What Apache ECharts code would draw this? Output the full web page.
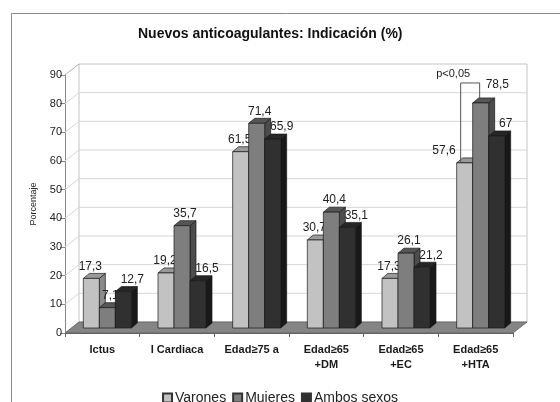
<!DOCTYPE html>
<html>
<head>
<meta charset="utf-8">
<script src="https://cdn.jsdelivr.net/npm/echarts@6/dist/echarts.min.js"></script>
<style>
  html, body { margin: 0; padding: 0; background: #fff; }
  #chart { width: 560px; height: 402px; }
</style>
</head>
<body>
<div id="chart"></div>
<script>
// Indicaciones de los nuevos anticoagulantes, en porcentaje
const categorias = ['Ictus', 'I Cardiaca', 'Edad≥75 a', 'Edad≥65\n+DM', 'Edad≥65\n+EC', 'Edad≥65\n+HTA'];
const varones = [17.3, 19.2, 61.5, 30.7, 17.3, 57.6];
const mujeres = [7.1, 35.7, 71.4, 40.4, 26.1, 78.5];
const ambosSexos = [12.7, 16.5, 65.9, 35.1, 21.2, 67];
const nombresSeries = ['Varones', 'Mujeres', 'Ambos sexos'];
const ticksY = [0, 10, 20, 30, 40, 50, 60, 70, 80, 90];
// diferencia significativa: categoría, texto
const significacion = { categoria: 5, texto: 'p<0,05' };

const FONT = '"Liberation Sans", Arial, sans-serif';

// Profundidad de la caja 3D y de las barras (px)
const CAJA = [14, -11];
const BARRA_OFF = [5, -5];
const BARRA_PROF = [6, -5];
const BARRA_ANCHO = 16;

// Colores por serie: frontal, superior, lateral
const colores = [
  { front: '#c2c2c2', top: '#9a9a9a', side: '#8a8a8a' },
  { front: '#7e7e7e', top: '#565656', side: '#4c4c4c' },
  { front: '#303030', top: '#262626', side: '#181818' }
];
const valores = [varones, mujeres, ambosSexos];

function fmt(v) { return String(v).replace('.', ','); }

function geomBarra(api, s, i, v) {
  const base = api.coord([i, 0]);
  const top = api.coord([i, v]);
  const fx = base[0] - 1.5 * BARRA_ANCHO + s * BARRA_ANCHO + BARRA_OFF[0];
  return { fx: fx, by: base[1] + BARRA_OFF[1], ty: top[1] + BARRA_OFF[1] };
}

function bracketGeom(api) {
  const i = significacion.categoria;
  const a = geomBarra(api, 0, i, varones[i]);
  const b = geomBarra(api, 1, i, mujeres[i]);
  const lx = a.fx + BARRA_ANCHO / 2 - 4;
  const rx = b.fx + BARRA_ANCHO / 2 - 1;
  const topY = b.ty - 20;
  return { lx: lx, rx: rx, topY: topY, ly: a.ty - 1, ry: b.ty + BARRA_PROF[1] };
}

function renderBarra(s) {
  return function (params, api) {
    const i = api.value(0);
    const v = api.value(1);
    const g = geomBarra(api, s, i, v);
    const c = colores[s];
    const w = BARRA_ANCHO, dx = BARRA_PROF[0], dy = BARRA_PROF[1];
    const stroke = { stroke: '#1a1a1a', lineWidth: 0.7 };
    const children = [
      { type: 'polygon', shape: { points: [[g.fx + w, g.ty], [g.fx + w + dx, g.ty + dy], [g.fx + w + dx, g.by + dy], [g.fx + w, g.by]] },
        style: Object.assign({ fill: c.side }, stroke) },
      { type: 'polygon', shape: { points: [[g.fx, g.ty], [g.fx + w, g.ty], [g.fx + w + dx, g.ty + dy], [g.fx + dx, g.ty + dy]] },
        style: Object.assign({ fill: c.top }, stroke) },
      { type: 'rect', shape: { x: g.fx, y: g.ty, width: w, height: g.by - g.ty },
        style: Object.assign({ fill: c.front }, stroke) }
    ];
    // etiqueta de valor
    let lx = g.fx + w / 2 + [-1, 3, 9][s];
    let ly = g.ty - 12;
    let align = 'center';
    if (i === significacion.categoria && s < 2) {
      const bg = bracketGeom(api);
      if (s === 0) { lx = bg.lx - 5; ly = g.ty - 12; align = 'right'; }
      else { lx = bg.rx + 6; ly = bg.topY + 2; align = 'left'; }
    }
    children.push({ type: 'text', style: { text: fmt(v), x: lx, y: ly, align: align, verticalAlign: 'middle',
      font: '12px ' + FONT, fill: '#222' } });
    return { type: 'group', children: children };
  };
}

function renderCaja(params, api) {
  const cs = params.coordSys;
  const x0 = cs.x, x1 = cs.x + cs.width;
  const y0 = api.coord([0, 0])[1];
  const yTop = api.coord([0, ticksY[ticksY.length - 1]])[1];
  const dx = CAJA[0], dy = CAJA[1];
  const grid = '#d6d6d6';
  const children = [];
  children.push({ type: 'rect', shape: { x: x0 + dx, y: yTop + dy, width: x1 - x0, height: y0 - yTop },
    style: { fill: '#fff', stroke: '#c4c4c4', lineWidth: 1 } });
  ticksY.forEach(function (t) {
    const y = api.coord([0, t])[1];
    if (t > 0 && t < ticksY[ticksY.length - 1]) {
      children.push({ type: 'line', shape: { x1: x0 + dx, y1: y + dy, x2: x1 + dx, y2: y + dy }, style: { stroke: grid, lineWidth: 1 } });
    }
    children.push({ type: 'line', shape: { x1: x0, y1: y, x2: x0 + dx, y2: y + dy }, style: { stroke: t === ticksY[ticksY.length - 1] ? '#b0b0b0' : grid, lineWidth: 1 } });
  });
  // suelo
  children.push({ type: 'polygon', shape: { points: [[x0, y0], [x1, y0], [x1 + dx, y0 + dy], [x0 + dx, y0 + dy]] },
    style: { fill: '#858585', stroke: '#5e5e5e', lineWidth: 0.8 } });
  return { type: 'group', children: children };
}

function renderSignificacion(params, api) {
  const b = bracketGeom(api);
  return { type: 'group', children: [
    { type: 'polyline', shape: { points: [[b.lx, b.ly], [b.lx, b.topY], [b.rx, b.topY], [b.rx, b.ry]] },
      style: { stroke: '#555', lineWidth: 1, fill: null } },
    { type: 'text', style: { text: significacion.texto, x: (b.lx + b.rx) / 2 - 17, y: b.topY - 9,
      align: 'center', verticalAlign: 'middle', font: '11px ' + FONT, fill: '#222' } }
  ] };
}

const chart = echarts.init(document.getElementById('chart'), null, { renderer: 'canvas' });

const series = [{
  type: 'custom', name: 'caja', renderItem: renderCaja, data: [[0, 0]], silent: true, z: 1
}];
valores.forEach(function (arr, s) {
  series.push({
    type: 'custom', name: nombresSeries[s], renderItem: renderBarra(s), z: 2,
    itemStyle: { color: colores[s].front, borderColor: '#333', borderWidth: 1 },
    data: arr.map(function (v, i) { return [i, v]; })
  });
});
series.push({ type: 'custom', name: 'sig', renderItem: renderSignificacion, data: [[significacion.categoria, 0]], silent: true, z: 3 });

chart.setOption({
  animation: false,
  backgroundColor: '#fff',
  textStyle: { fontFamily: FONT },
  title: {
    text: 'Nuevos anticoagulantes: Indicación (%)',
    left: 133, top: 22,
    textStyle: { fontSize: 14, fontWeight: 'bold', color: '#111', fontFamily: FONT }
  },
  graphic: [{
    type: 'rect', left: 9, top: 11, shape: { width: 560, height: 400 },
    style: { fill: null, stroke: '#8a8a8a', lineWidth: 1 }, silent: true, z: -1
  }],
  legend: {
    data: nombresSeries,
    left: 'center', top: 386,
    icon: 'rect', itemWidth: 9, itemHeight: 9, itemGap: 6,
    textStyle: { fontSize: 14, color: '#222', fontFamily: FONT, padding: [0, 0, 0, -2] }
  },
  grid: { left: 65, right: 47, top: 75, bottom: 69, containLabel: false },
  xAxis: {
    type: 'category', data: categorias,
    axisLine: { show: true, lineStyle: { color: '#666' } },
    axisTick: { show: true, length: 4, lineStyle: { color: '#666' } },
    axisLabel: { fontSize: 11, fontWeight: 'bold', color: '#1a1a1a', lineHeight: 15, margin: 9, interval: 0, fontFamily: FONT },
    splitLine: { show: false }
  },
  yAxis: {
    type: 'value', min: 0, max: 90, interval: 10,
    name: 'Porcentaje', nameLocation: 'middle', nameGap: 27, nameRotate: 90,
    nameTextStyle: { fontSize: 9, color: '#222', fontFamily: FONT },
    axisLine: { show: true, lineStyle: { color: '#888' } },
    axisTick: { show: true, length: 5, lineStyle: { color: '#888' } },
    axisLabel: { fontSize: 11, color: '#222', margin: 3, fontFamily: FONT },
    splitLine: { show: false }
  },
  series: series
});
</script>
</body>
</html>
